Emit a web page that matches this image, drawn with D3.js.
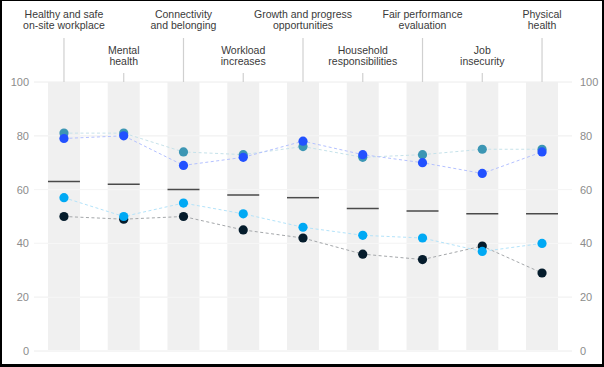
<!DOCTYPE html>
<html><head><meta charset="utf-8">
<script src="https://cdn.jsdelivr.net/npm/d3@7"></script>
<style>body{margin:0;background:#fff}svg{display:block}</style>
</head><body>
<script>
const categories = [
  ["Healthy and safe","on-site workplace"],
  ["Mental","health"],
  ["Connectivity","and belonging"],
  ["Workload","increases"],
  ["Growth and progress","opportunities"],
  ["Household","responsibilities"],
  ["Fair performance","evaluation"],
  ["Job","insecurity"],
  ["Physical","health"]
];
const meanValues   = [63, 62, 60, 58, 57, 53, 52, 51, 51];
const blackValues  = [50, 49, 50, 45, 42, 36, 34, 39, 29];
const cyanValues   = [57, 50, 55, 51, 46, 43, 42, 37, 40];
const tealValues   = [81, 81, 74, 73, 76, 72, 73, 75, 75];
const blueValues   = [79, 80, 69, 72, 78, 73, 70, 66, 74];
const tickValues   = [0, 20, 40, 60, 80, 100];

const series = [
  {name:"black", values: blackValues, color:"#051c2c", line:"#a4a7aa"},
  {name:"cyan",  values: cyanValues,  color:"#00a9f4", line:"#b3e3fa"},
  {name:"teal",  values: tealValues,  color:"#3c96b4", line:"#c6e2ea"},
  {name:"blue",  values: blueValues,  color:"#2251ff", line:"#b4c1ff"}
];

const W = 604, H = 367;
const svg = d3.select("body").append("svg").attr("width", W).attr("height", H);

const x = d3.scaleBand().domain(d3.range(categories.length)).range([34, 572])
  .paddingInner(0.465).paddingOuter(0.234);
const y = d3.scaleLinear().domain([0, 100]).range([351, 82]);

// gridlines
svg.append("g").selectAll("line").data(tickValues).join("line")
  .attr("x1", 34).attr("x2", 572)
  .attr("y1", d => y(d)).attr("y2", d => y(d))
  .attr("stroke", "#ececec").attr("stroke-width", 1);

// bars
svg.append("g").selectAll("rect").data(categories).join("rect")
  .attr("x", (d,i) => x(i)).attr("width", x.bandwidth())
  .attr("y", y(100)).attr("height", y(0) - y(100) - 1)
  .attr("fill", "#f0f0f0");

// gridlines over bars (subtle)
svg.append("g").selectAll("line").data(tickValues.filter(d => d > 0 && d < 100)).join("line")
  .attr("x1", 34).attr("x2", 572)
  .attr("y1", d => y(d)).attr("y2", d => y(d))
  .attr("stroke", "#f6f6f6").attr("stroke-width", 1);

// axis labels
const fontFam = "'Liberation Sans', Arial, sans-serif";
const axL = svg.append("g").attr("transform", "translate(34,0)")
  .call(d3.axisLeft(y).tickValues(tickValues).tickSize(0).tickPadding(5));
const axR = svg.append("g").attr("transform", "translate(572,0)")
  .call(d3.axisRight(y).tickValues(tickValues).tickSize(0).tickPadding(8));
[axL, axR].forEach(a => {
  a.select(".domain").remove();
  a.selectAll("text").style("fill", "#8c8c8c").style("font-family", fontFam).style("font-size", "11px");
});

// category labels with leader lines
const lab = svg.append("g");
categories.forEach((c, i) => {
  const cx = x(i) + x.bandwidth()/2;
  const row = i % 2;
  const base = row === 0 ? 17.5 : 53.5;
  const t = lab.append("text").attr("text-anchor", "middle")
    .style("fill", "#3a3a3a").style("font-family", fontFam).style("font-size", "10.5px");
  c.forEach((line, k) => {
    t.append("tspan").attr("x", cx).attr("y", base + k*11.8).text(line);
  });
  lab.append("line").attr("x1", cx).attr("x2", cx)
    .attr("y1", row === 0 ? 38 : 73).attr("y2", y(100))
    .attr("stroke", "#d0d0d0").attr("stroke-width", 1.2);
});

// mean lines
svg.append("g").selectAll("line").data(meanValues).join("line")
  .attr("x1", (d,i) => x(i)).attr("x2", (d,i) => x(i) + x.bandwidth())
  .attr("y1", d => y(d)).attr("y2", d => y(d))
  .attr("stroke", "#4a4a4a").attr("stroke-width", 1.5);

// dashed connector lines
const line = d3.line().x((d,i) => x(i) + x.bandwidth()/2).y(d => y(d));
svg.append("g").selectAll("path").data(series).join("path")
  .attr("d", s => line(s.values)).attr("fill", "none")
  .attr("stroke", s => s.line).attr("stroke-width", 1)
  .attr("stroke-dasharray", "3,2.5");

// dots
series.forEach(s => {
  svg.append("g").selectAll("circle").data(s.values).join("circle")
    .attr("cx", (d,i) => x(i) + x.bandwidth()/2).attr("cy", d => y(d))
    .attr("r", 4.6).attr("fill", s.color);
});

// frame
svg.append("rect").attr("x", 0).attr("y", 0).attr("width", 2).attr("height", H).attr("fill", "#000");
svg.append("rect").attr("x", W-2).attr("y", 0).attr("width", 2).attr("height", H).attr("fill", "#000");
svg.append("rect").attr("x", 0).attr("y", 0).attr("width", W).attr("height", 1).attr("fill", "#000");
svg.append("rect").attr("x", 0).attr("y", H-3).attr("width", W).attr("height", 3).attr("fill", "#000");
</script>
</body></html>
